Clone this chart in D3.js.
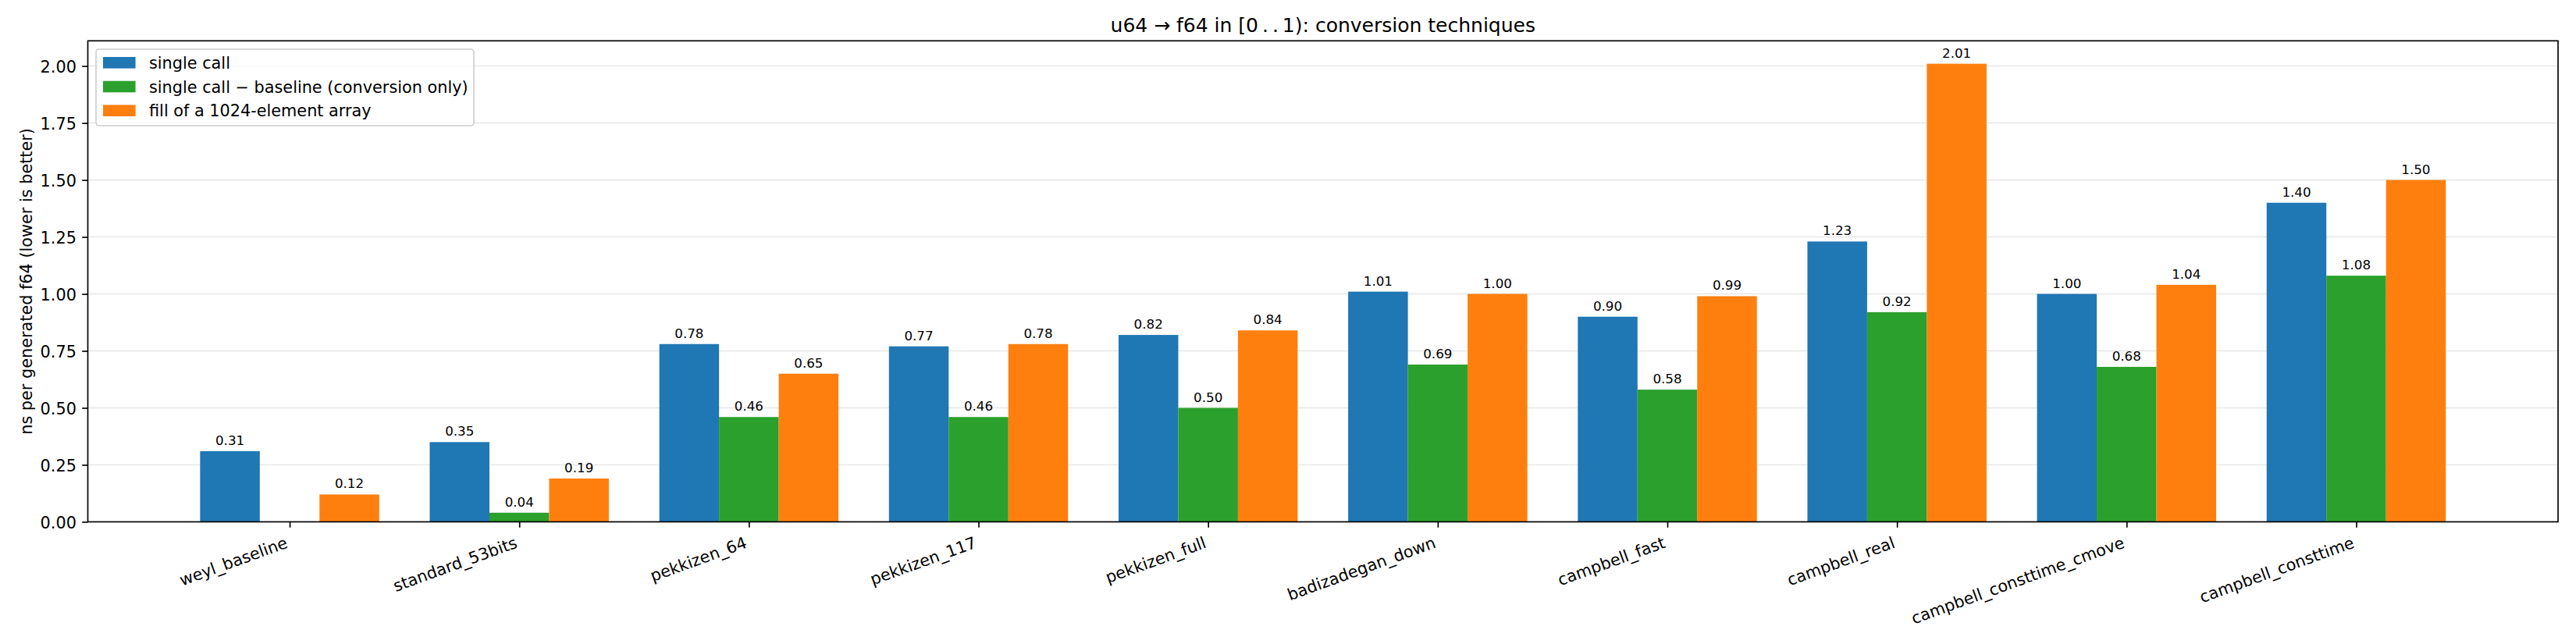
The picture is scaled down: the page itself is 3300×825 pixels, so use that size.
<!DOCTYPE html>
<html>
<head>
<meta charset="utf-8">
<script src="https://cdn.jsdelivr.net/npm/d3@7"></script>
<style>
  body { margin: 0; background: #fff; }
  svg text { font-family: "DejaVu Sans", sans-serif; fill: #000; }
  .axis path, .axis line { stroke: #000; stroke-width: 1.67; }
  .grid line { stroke: #e6e6e6; stroke-width: 1.6; }
</style>
</head>
<body>
<svg width="3300" height="825"></svg>
<script>
var methods = ["weyl_baseline", "standard_53bits", "pekkizen_64", "pekkizen_117", "pekkizen_full",
               "badizadegan_down", "campbell_fast", "campbell_real", "campbell_consttime_cmove", "campbell_consttime"];
var singleCall = [0.31, 0.35, 0.78, 0.77, 0.82, 1.01, 0.90, 1.23, 1.00, 1.40];
var convOnly   = [0.00, 0.04, 0.46, 0.46, 0.50, 0.69, 0.58, 0.92, 0.68, 1.08];
var fillArray  = [0.12, 0.19, 0.65, 0.78, 0.84, 1.00, 0.99, 2.01, 1.04, 1.50];
var seriesNames = ["single call", "single call \u2212 baseline (conversion only)", "fill of a 1024-element array"];
var yTicks = [0, 0.25, 0.5, 0.75, 1.0, 1.25, 1.5, 1.75, 2.0];

var series = [singleCall, convOnly, fillArray].map(function(vals, k) {
  return {name: seriesNames[k], k: k, values: vals.map(function(v, i) { return {i: i, v: v}; })};
});

var svg = d3.select("svg"),
    plotL = 112.5, plotR = 3277, plotT = 52.3, plotB = 668.5,
    barW = 0.26;

var x = d3.scaleLinear().domain([-0.879, 9.879]).range([plotL, plotR]),
    y = d3.scaleLinear().domain([0, 2.1105]).range([plotB, plotT]),
    z = d3.scaleOrdinal().domain([0, 1, 2]).range(["#1f77b4", "#2ca02c", "#ff7f0e"]);

// grid
svg.append("g")
    .attr("class", "grid")
  .selectAll("line")
  .data(yTicks.slice(1))
  .enter().append("line")
    .attr("x1", plotL).attr("x2", plotR)
    .attr("y1", function(d) { return y(d); })
    .attr("y2", function(d) { return y(d); });

// bars
var grp = svg.selectAll(".series")
  .data(series)
  .enter().append("g")
    .attr("class", "series")
    .attr("fill", function(d) { return z(d.k); });

grp.selectAll("rect")
  .data(function(d) { return d.values.map(function(p) { return {i: p.i, v: p.v, k: d.k}; }); })
  .enter().append("rect")
    .attr("x", function(d) { return x(d.i + (d.k - 1) * barW - barW / 2); })
    .attr("width", function(d) { return x(barW) - x(0); })
    .attr("y", function(d) { return y(d.v); })
    .attr("height", function(d) { return y(0) - y(d.v); });

grp.selectAll("text")
  .data(function(d) { return d.values.filter(function(p) { return p.v > 0; }).map(function(p) { return {i: p.i, v: p.v, k: d.k}; }); })
  .enter().append("text")
    .attr("x", function(d) { return x(d.i + (d.k - 1) * barW); })
    .attr("y", function(d) { return y(d.v) - 8; })
    .attr("text-anchor", "middle")
    .style("font-size", "16.7px")
    .text(function(d) { return d.v.toFixed(2); });

// axes
var yAxis = svg.append("g")
    .attr("class", "axis")
    .attr("transform", "translate(" + plotL + ",0)")
    .call(d3.axisLeft(y).tickValues(yTicks).tickFormat(d3.format(".2f")).tickSize(7.3).tickPadding(7.3));
yAxis.select(".domain").remove();
yAxis.selectAll("text").style("font-size", "20.8px").attr("dy", "0.36em");

var xAxis = svg.append("g")
    .attr("class", "axis")
    .attr("transform", "translate(0," + plotB + ")")
    .call(d3.axisBottom(x).tickValues(d3.range(methods.length)).tickFormat(function(i) { return methods[i]; })
      .tickSize(7.3).tickPadding(0));
xAxis.select(".domain").remove();
xAxis.selectAll("text")
    .style("font-size", "20.8px")
    .attr("text-anchor", "end")
    .attr("dy", null)
    .attr("y", null)
    .attr("transform", "translate(-1.7,32.5) rotate(-20)");

// frame
svg.append("rect")
    .attr("x", plotL).attr("y", plotT)
    .attr("width", plotR - plotL).attr("height", plotB - plotT)
    .attr("fill", "none")
    .attr("stroke", "#000")
    .attr("stroke-width", 1.67);

// title and y label
svg.append("text")
    .attr("x", (plotL + plotR) / 2)
    .attr("y", 41)
    .attr("text-anchor", "middle")
    .style("font-size", "25px")
    .text("u64 \u2192 f64 in [0\u2009.\u2009.\u20091): conversion techniques");

svg.append("text")
    .attr("transform", "translate(40.5," + ((plotT + plotB) / 2) + ") rotate(-90)")
    .attr("text-anchor", "middle")
    .style("font-size", "20.8px")
    .text("ns per generated f64 (lower is better)");

// legend
var legend = svg.append("g");
legend.append("rect")
    .attr("x", 123).attr("y", 63)
    .attr("width", 484).attr("height", 98)
    .attr("rx", 4)
    .attr("fill", "#fff").attr("fill-opacity", 0.8)
    .attr("stroke", "#ccc").attr("stroke-width", 1.6);

var item = legend.selectAll(".item")
  .data(series)
  .enter().append("g")
    .attr("transform", function(d, i) { return "translate(132," + (80.5 + i * 30.7) + ")"; });

item.append("rect")
    .attr("y", -7.5).attr("width", 41.6).attr("height", 14.6)
    .attr("fill", function(d) { return z(d.k); });

item.append("text")
    .attr("x", 59)
    .attr("dy", "0.36em")
    .style("font-size", "20.8px")
    .text(function(d) { return d.name; });
</script>
</body>
</html>
